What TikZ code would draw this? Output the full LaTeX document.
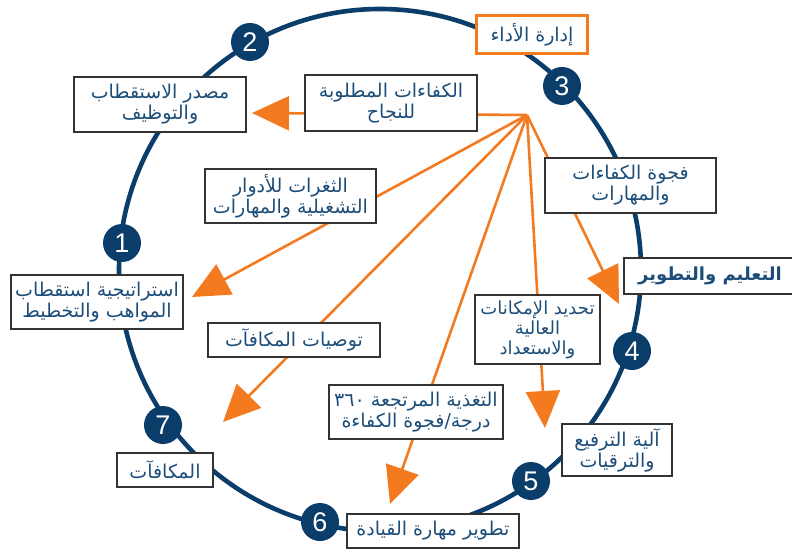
\documentclass[tikz,border=0pt]{standalone}
\usepackage{fontspec}
\usetikzlibrary{arrows.meta}
\TeXXeTstate=1
\newfontfamily\arabicfont[Script=Arabic]{DejaVu Sans}
\newfontfamily\numfont{Liberation Sans}
\definecolor{navy}{HTML}{0B3D6B}
\definecolor{txtblue}{HTML}{1D4E79}
\definecolor{orng}{HTML}{F47A20}
\newcommand{\ar}[1]{\beginR #1\endR}
\begin{document}
\begin{tikzpicture}[x=1pt,y=-1pt,
  box/.style={draw=black!80, line width=1.2pt, fill=white, text=txtblue,
    font=\arabicfont\fontsize{19}{21}\selectfont, align=center, inner sep=1pt},
  numc/.style={circle, fill=navy, minimum size=38pt, inner sep=0pt, text=white,
    font=\numfont\fontsize{27}{27}\selectfont},
  arr/.style={draw=orng, line width=2.6pt, -{Triangle[length=37pt,width=34pt]}, fill=orng}]
\useasboundingbox (0,0) rectangle (792,553);
% big circle
\draw[navy, line width=4.6pt] (380,270) circle [radius=261pt];
% hub and tips
\coordinate (hub) at (527,115);
\coordinate (t1) at (252,113);
\coordinate (t2) at (192,297);
\coordinate (t3) at (223,422);
\coordinate (t4) at (390,504);
\coordinate (t5) at (545,428);
\coordinate (t6) at (619,304);
\foreach \t in {t1,t2,t3,t4,t5,t6} \draw[arr] (hub) -- (\t);
% numbered circles
\node[numc] (n1) at (122,243) {1};
\node[numc] (n2) at (250,42) {2};
\node[numc] (n3) at (562,86) {3};
\node[numc] (n4) at (632,351) {4};
\node[numc] (n5) at (531,481) {5};
\node[numc] (n6) at (320,522) {6};
\node[numc] (n7) at (163,425) {7};
% boxes
\node[box, minimum width=172pt, minimum height=55pt] (masdar) at (160,104.5) {\ar{مصدر الاستقطاب}\\\ar{والتوظيف}};
\node[box, minimum width=172pt, minimum height=56pt] (kafaat) at (391,103) {\ar{الكفاءات المطلوبة}\\\ar{للنجاح}};
\node[box, draw=orng, line width=2.6pt, minimum width=111pt, minimum height=38pt] (idara) at (532,34.5) {\ar{إدارة الأداء}};
\node[box, minimum width=171pt, minimum height=54pt] (thaghrat) at (290.5,196) {\ar{الثغرات للأدوار}\\\ar{التشغيلية والمهارات}};
\node[box, minimum width=171pt, minimum height=55pt] (fajwa) at (630.5,185.5) {\ar{فجوة الكفاءات}\\\ar{والمهارات}};
\node[box, minimum width=172pt, minimum height=54pt] (istr) at (97,302) {\ar{استراتيجية استقطاب}\\\ar{المواهب والتخطيط}};
\node[box, minimum width=172pt, minimum height=36pt, font=\arabicfont\bfseries\fontsize{18}{21}\selectfont] (taalim) at (710,276) {\ar{التعليم والتطوير}};
\node[box, minimum width=125pt, minimum height=69pt, font=\arabicfont\fontsize{18}{20}\selectfont] (tahdid) at (537.5,329.5) {\ar{تحديد الإمكانات}\\\ar{العالية}\\\ar{والاستعداد}};
\node[box, minimum width=172pt, minimum height=34pt] (tawsiyat) at (294,340) {\ar{توصيات المكافآت}};
\node[box, minimum width=174pt, minimum height=54pt] (taghdhia) at (416,412) {\ar{التغذية المرتجعة ٣٦٠}\\\ar{درجة/فجوة الكفاءة}};
\node[box, minimum width=96pt, minimum height=34pt] (makafaat) at (165,470) {\ar{المكافآت}};
\node[box, minimum width=110pt, minimum height=52pt] (aliya) at (617,450) {\ar{آلية الترفيع}\\\ar{والترقيات}};
\node[box, minimum width=172pt, minimum height=34pt] (tatwir) at (433,531) {\ar{تطوير مهارة القيادة}};
\end{tikzpicture}
\end{document}
